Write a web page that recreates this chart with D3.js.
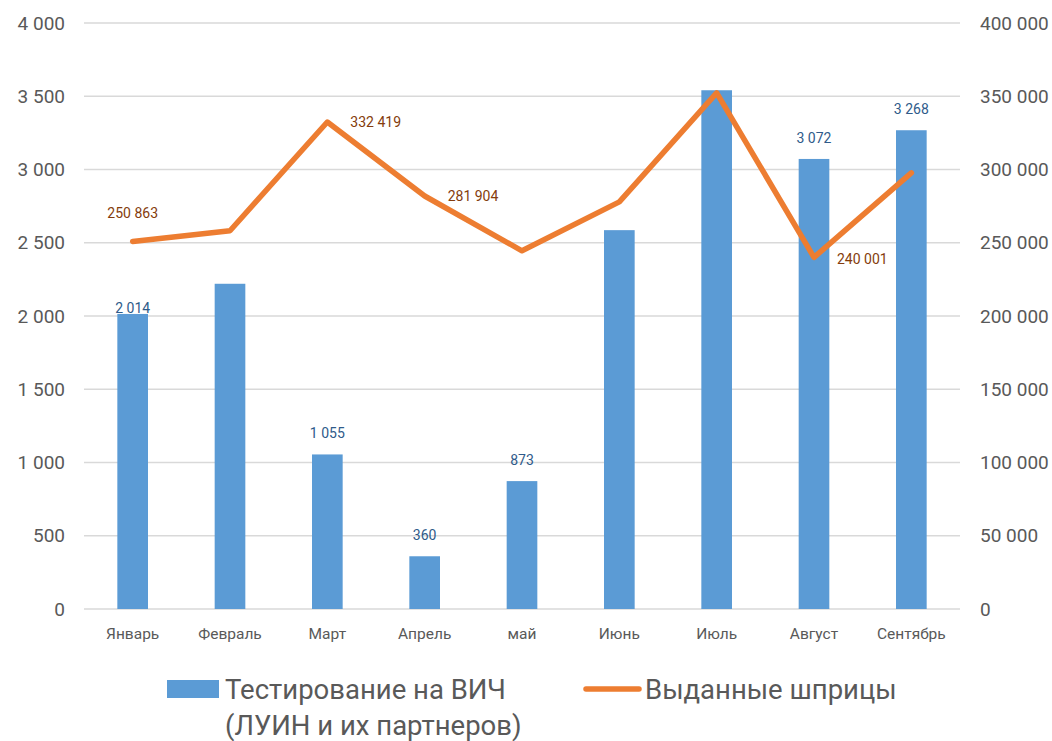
<!DOCTYPE html>
<html>
<head>
<meta charset="utf-8">
<script src="https://cdn.jsdelivr.net/npm/d3@7"></script>
<style>
  body { margin: 0; background: #fff; }
  text { font-family: Roboto, "Noto Sans", sans-serif; }
</style>
</head>
<body>
<div id="chart"></div>
<script>
// Data
var months = ["Январь", "Февраль", "Март", "Апрель", "май", "Июнь", "Июль", "Август", "Сентябрь"];
var tests = [2014, 2220, 1055, 360, 873, 2586, 3541, 3072, 3268];
var syringes = [250863, 258200, 332419, 281904, 244500, 277900, 352300, 240001, 297700];
var testLabelIdx = [0, 2, 3, 4, 7, 8];
var syringeLabelIdx = [0, 2, 3, 7];
var leftTicks = [0, 500, 1000, 1500, 2000, 2500, 3000, 3500, 4000];
var rightTicks = [0, 50000, 100000, 150000, 200000, 250000, 300000, 350000, 400000];
var seriesNames = ["Тестирование на ВИЧ", "(ЛУИН и их партнеров)", "Выданные шприцы"];

var W = 1052, H = 741;
var margin = {top: 23, right: 92, bottom: 132, left: 84},
    width = W - margin.left - margin.right,
    height = H - margin.top - margin.bottom;

var fmt = d3.formatLocale({decimal: ",", thousands: " ", grouping: [3], currency: ["", ""]}).format(",d");

var svg = d3.select("#chart")
  .append("svg")
    .attr("width", W)
    .attr("height", H)
  .append("g")
    .attr("transform", "translate(" + margin.left + "," + margin.top + ")");

var x = d3.scaleBand().domain(months).range([0, width]).padding(0);
var yL = d3.scaleLinear().domain([0, 4000]).range([height, 0]);
var yR = d3.scaleLinear().domain([0, 400000]).range([height, 0]);
var barW = x.bandwidth() * 0.315;

// Gridlines
svg.append("g")
  .selectAll("line")
  .data(leftTicks)
  .join("line")
    .attr("x1", 0)
    .attr("x2", width)
    .attr("y1", function(d) { return yL(d); })
    .attr("y2", function(d) { return yL(d); })
    .attr("stroke", "#d9d9d9")
    .attr("stroke-width", 1.5);

// Left axis
var gL = svg.append("g")
    .call(d3.axisLeft(yL).tickValues(leftTicks).tickFormat(fmt).tickSize(0).tickPadding(19));
gL.select(".domain").remove();
gL.selectAll("text").attr("fill", "#595959").style("font-size", "19px");

// Right axis
var gR = svg.append("g")
    .attr("transform", "translate(" + width + ",0)")
    .call(d3.axisRight(yR).tickValues(rightTicks).tickFormat(fmt).tickSize(0).tickPadding(20));
gR.select(".domain").remove();
gR.selectAll("text").attr("fill", "#595959").style("font-size", "19px");

// Bottom axis
var gB = svg.append("g")
    .attr("transform", "translate(0," + height + ")")
    .call(d3.axisBottom(x).tickSize(0).tickPadding(19));
gB.select(".domain").remove();
gB.selectAll("text").attr("fill", "#595959").style("font-size", "15.5px");

// Bars
svg.append("g")
  .selectAll("rect")
  .data(tests)
  .join("rect")
    .attr("x", function(d, i) { return x(months[i]) + x.bandwidth() / 2 - barW / 2; })
    .attr("y", function(d) { return yL(d); })
    .attr("width", barW)
    .attr("height", function(d) { return height - yL(d); })
    .attr("fill", "#5b9bd5");

// Bar labels
svg.append("g")
  .selectAll("text")
  .data(testLabelIdx)
  .join("text")
    .attr("x", function(i) { return x(months[i]) + x.bandwidth() / 2; })
    .attr("y", function(i) { return yL(tests[i]) - (i === 0 ? 1 : 16); })
    .attr("text-anchor", "middle")
    .attr("fill", "#2f5b8a")
    .style("font-size", "14px")
    .text(function(i) { return fmt(tests[i]); });

// Line
var line = d3.line()
    .x(function(d, i) { return x(months[i]) + x.bandwidth() / 2; })
    .y(function(d) { return yR(d); });

svg.append("path")
    .datum(syringes)
    .attr("fill", "none")
    .attr("stroke", "#ed7d31")
    .attr("stroke-width", 5.5)
    .attr("stroke-linejoin", "round")
    .attr("stroke-linecap", "round")
    .attr("d", line);

// Line labels
svg.append("g")
  .selectAll("text")
  .data(syringeLabelIdx)
  .join("text")
    .attr("x", function(i) { return x(months[i]) + x.bandwidth() / 2 + (i === 0 ? 0 : 23); })
    .attr("y", function(i) { return yR(syringes[i]) + (i === 0 ? -23 : (i === 7 ? 7 : 5)); })
    .attr("text-anchor", function(i) { return i === 0 ? "middle" : "start"; })
    .attr("fill", "#843c0c")
    .style("font-size", "14px")
    .text(function(i) { return fmt(syringes[i]); });

// Legend
var legend = d3.select("svg").append("g");
legend.append("rect")
    .attr("x", 167).attr("y", 680).attr("width", 52).attr("height", 18)
    .attr("fill", "#5b9bd5");
legend.append("text")
    .attr("x", 225).attr("y", 699)
    .attr("fill", "#595959")
    .style("font-size", "27.5px")
    .text(seriesNames[0]);
legend.append("text")
    .attr("x", 225).attr("y", 735)
    .attr("fill", "#595959")
    .style("font-size", "27.5px")
    .text(seriesNames[1]);
legend.append("line")
    .attr("x1", 586).attr("x2", 639).attr("y1", 689).attr("y2", 689)
    .attr("stroke", "#ed7d31").attr("stroke-width", 5.5).attr("stroke-linecap", "round");
legend.append("text")
    .attr("x", 645).attr("y", 699)
    .attr("fill", "#595959")
    .style("font-size", "27.5px")
    .text(seriesNames[2]);
</script>
</body>
</html>
